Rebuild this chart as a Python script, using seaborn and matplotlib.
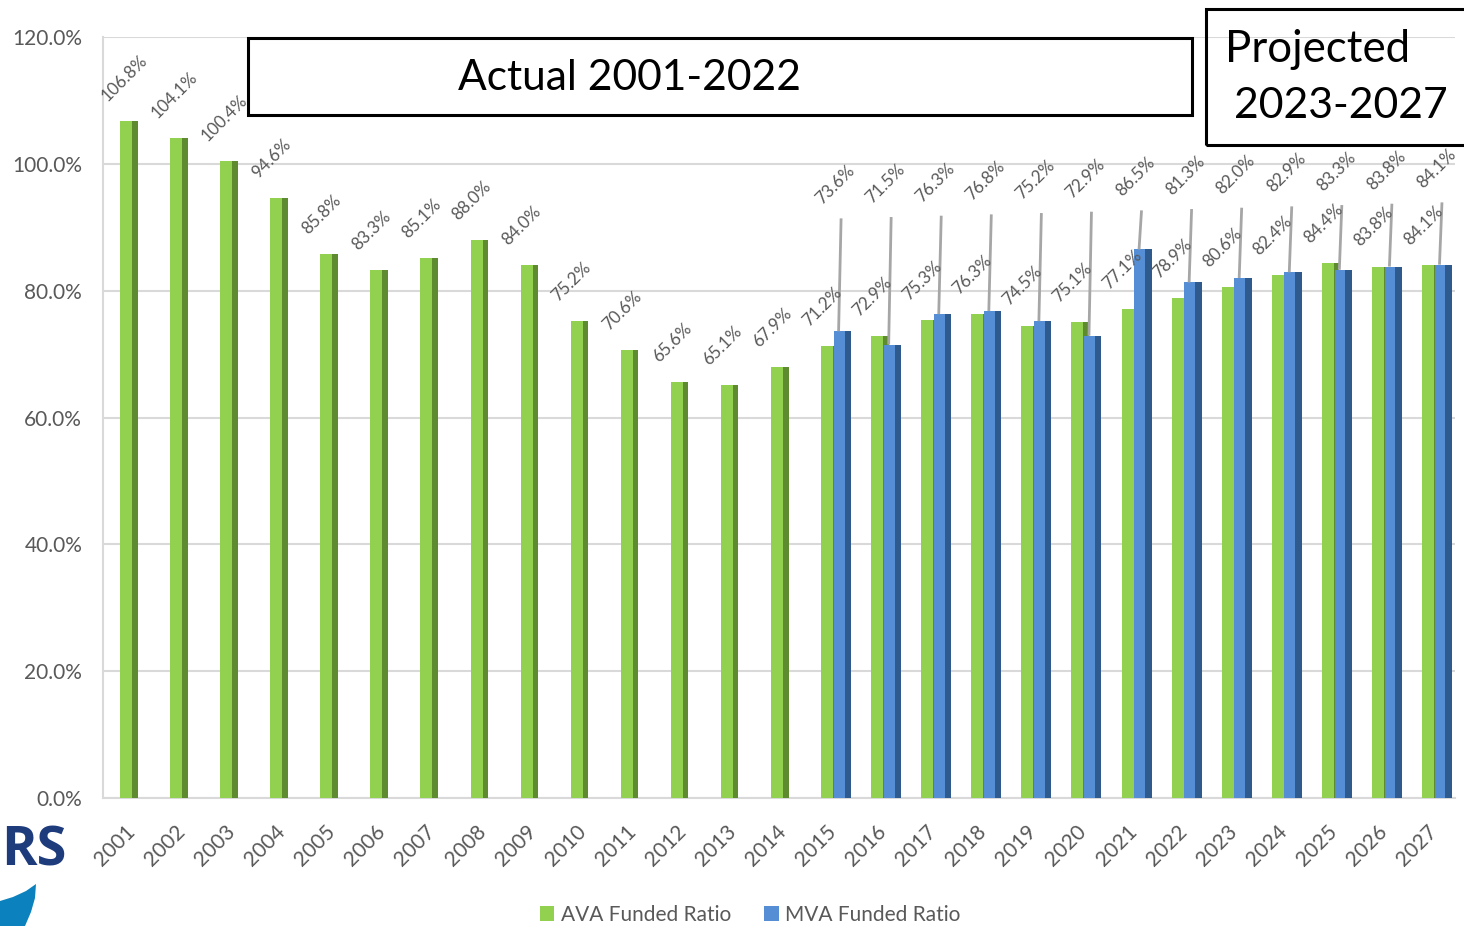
import numpy as np
import pandas as pd
import matplotlib
matplotlib.use("Agg")
import matplotlib.pyplot as plt
from matplotlib.patches import Rectangle, Patch, Polygon
import seaborn as sns

# ---- data -------------------------------------------------------------
years = list(range(2001, 2028))
ava_ratio = [106.8, 104.1, 100.4, 94.6, 85.8, 83.3, 85.1, 88.0, 84.0, 75.2,
             70.6, 65.6, 65.1, 67.9, 71.2, 72.9, 75.3, 76.3, 74.5, 75.1,
             77.1, 78.9, 80.6, 82.4, 84.4, 83.8, 84.1]
mva_years = list(range(2015, 2028))
mva_ratio = [73.6, 71.5, 76.3, 76.8, 75.2, 72.9, 86.5, 81.3, 82.0, 82.9,
             83.3, 83.8, 84.1]
y_ticks = [0, 20, 40, 60, 80, 100, 120]
legend_labels = ["AVA Funded Ratio", "MVA Funded Ratio"]

# ---- style ------------------------------------------------------------
sns.set_theme(style="white")
FONT = ["Lato", "DejaVu Sans"]
plt.rcParams["font.family"] = FONT

GREEN = "#92D050"
GREEN_SIDE = "#5E8B2F"
BLUE = "#558ED5"
BLUE_SIDE = "#2F5A8E"
GREY_TXT = "#595959"
GRID = "#D9D9D9"

W, H = 1464, 926
fig = plt.figure(figsize=(W / 100, H / 100), dpi=100)


def fx(x):
    return x / W


def fy(y):
    return 1 - y / H


ax = fig.add_axes([fx(103), fy(798), fx(1455) - fx(103), fy(37) - fy(798)])

ava_df = pd.DataFrame({"idx": np.arange(len(years)), "value": ava_ratio})
mva_idx = np.array([years.index(y) for y in mva_years])
mva_df = pd.DataFrame({"idx": mva_idx, "value": mva_ratio})


def bars(df, shift, width, color):
    sns.barplot(x=df["idx"] + shift, y=df["value"], native_scale=True,
                width=width, color=color, saturation=1, errorbar=None,
                linewidth=0, ax=ax, zorder=3)


# front face plus darker side face for a bevelled look
bars(ava_df, -0.04, 0.24, GREEN)
bars(ava_df, 0.135, 0.11, GREEN_SIDE)
bars(mva_df, 0.202, 0.216, BLUE)
bars(mva_df, 0.375, 0.13, BLUE_SIDE)

ax.set_xlim(-0.5, len(years) - 0.5)
ax.set_ylim(0, 120)
ax.set_yticks(y_ticks)
ax.set_yticklabels([f"{v:.1f}%" for v in y_ticks], color=GREY_TXT, fontsize=15)
ax.set_xticks(np.arange(len(years)) - 0.06)
ax.set_xticklabels([str(y) for y in years], rotation=45, ha="right",
                   rotation_mode="anchor", color=GREY_TXT, fontsize=15)
ax.tick_params(axis="x", length=0, pad=17)
ax.tick_params(axis="y", length=0, pad=15)
ax.set_xlabel("")
ax.set_ylabel("")
ax.grid(axis="y", color=GRID, linewidth=1.5, zorder=0)
ax.set_axisbelow(True)
for side in ["top", "right"]:
    ax.spines[side].set_visible(False)
for side in ["left", "bottom"]:
    ax.spines[side].set_color(GRID)
    ax.spines[side].set_linewidth(1.5)

# ---- value labels -----------------------------------------------------
LABEL_SIZE = 12.3
for i, v in enumerate(ava_ratio):
    ax.annotate(f"{v:.1f}%", xy=(i + 0.02, v), xytext=(-19, 17),
                textcoords="offset pixels", rotation=45, rotation_mode="anchor",
                ha="left", va="bottom", fontsize=LABEL_SIZE, color=GREY_TXT,
                zorder=5)

for k, (i, v) in enumerate(zip(mva_idx, mva_ratio)):
    bx = i + 0.24
    top = 91.4 + 0.21 * k
    ax.plot([bx - 0.05, bx], [v, top], color="#A6A6A6", lw=2, zorder=4,
            solid_capstyle="butt")
    ax.annotate(f"{v:.1f}%", xy=(bx, top), xytext=(-17, 11),
                textcoords="offset pixels", rotation=45, rotation_mode="anchor",
                ha="left", va="bottom", fontsize=LABEL_SIZE, color=GREY_TXT,
                zorder=5)

# ---- period boxes -----------------------------------------------------
fig.patches.append(Rectangle((fx(248), fy(115)), fx(1192) - fx(248), fy(38) - fy(115),
                             transform=fig.transFigure, facecolor="white",
                             edgecolor="black", linewidth=2.2, zorder=10))
fig.text(fx(630), fy(78), "Actual 2001-2022", ha="center", va="center",
         fontsize=30.6, color="black", zorder=11)

fig.patches.append(Rectangle((fx(1206), fy(145)), fx(1520) - fx(1206), fy(9) - fy(145),
                             transform=fig.transFigure, facecolor="none",
                             edgecolor="black", linewidth=2.2, zorder=10))
fig.text(fx(1318), fy(50), "Projected", ha="center", va="center",
         fontsize=31.5, color="black", zorder=11)
fig.text(fx(1341), fy(106), "2023-2027", ha="center", va="center",
         fontsize=30.8, color="black", zorder=11)

# ---- logo fragment ----------------------------------------------------
fig.text(fx(1), fy(852), "RS", ha="left", va="center", fontsize=39,
         fontweight="bold", color="#1E3C7C", family=["Open Sans", "DejaVu Sans"])
fig.patches.append(Polygon([(fx(0), fy(926)), (fx(0), fy(901)), (fx(13), fy(897)),
                            (fx(26), fy(891)), (fx(36), fy(884)), (fx(35), fy(898)),
                            (fx(31), fy(912)), (fx(25), fy(926))],
                           closed=True, transform=fig.transFigure,
                           facecolor="#0B82BE", edgecolor="none"))

# ---- legend -----------------------------------------------------------
handles = [Patch(facecolor=GREEN, edgecolor="none"),
           Patch(facecolor=BLUE, edgecolor="none")]
fig.legend(handles, legend_labels, loc="center", bbox_to_anchor=(fx(750), fy(915)),
           ncol=2, frameon=False, fontsize=15, handlelength=0.7,
           handleheight=0.7, handletextpad=0.3, columnspacing=1.6,
           labelcolor=GREY_TXT)

fig.savefig("out.png", dpi=100)
